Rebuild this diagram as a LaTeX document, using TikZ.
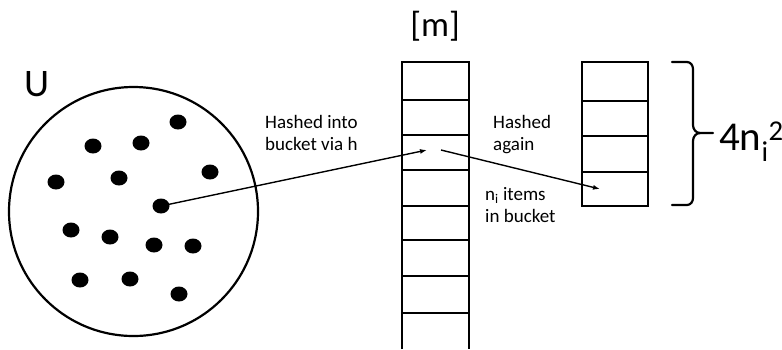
\documentclass[tikz,border=0pt]{standalone}
\usepackage{fontspec}
\setmainfont{Carlito}
\usetikzlibrary{arrows.meta}
\usetikzlibrary{shapes.geometric}
\tikzset{
  dot/.style={ellipse, fill=black, minimum width=17pt, minimum height=15pt, inner sep=0pt},
  boxline/.style={line width=2.4pt},
  arr/.style={line width=1.4pt, -{Latex[length=7pt,width=5pt]}},
  brace/.style={line width=2.2pt, line cap=round},
  lbl/.style={inner sep=0pt, align=left, font=\fontsize{19}{22}\selectfont},
}
\begin{document}
\begin{tikzpicture}[x=1pt,y=-1pt]
\useasboundingbox (0,0) rectangle (782,349);
% universe
\node[inner sep=0pt, anchor=base west, font=\fontsize{39}{44}\selectfont] (U) at (24,96) {U};
\node[circle, draw, line width=2.2pt, minimum size=249pt, inner sep=0pt] (univ) at (133.5,211.5) {};
\node[dot] (d1) at (178,122) {};
\node[dot] (d2) at (93,146) {};
\node[dot] (d3) at (141,143) {};
\node[dot] (d4) at (210,172) {};
\node[dot] (d5) at (56,182) {};
\node[dot] (d6) at (119,178) {};
\node[dot] (d7) at (161,206) {};
\node[dot] (d8) at (71,230) {};
\node[dot] (d9) at (110,237) {};
\node[dot] (d10) at (154,245) {};
\node[dot] (d11) at (193,246) {};
\node[dot] (d12) at (80,280) {};
\node[dot] (d13) at (130,279) {};
\node[dot] (d14) at (179,294) {};
% table [m]
\node[inner sep=0pt, anchor=base, font=\fontsize{35}{40}\selectfont] (mlabel) at (435,36) {[m]};
\draw[boxline] (402,349) -- (402,62) -- (469,62) -- (469,349);
\foreach \yy in {100,135,170,206,240,276,313} {
  \draw[boxline] (402,\yy) -- (469,\yy);
}
% second table
\draw[boxline] (582,62) rectangle (648,206);
\foreach \yy in {101,136,172} {
  \draw[boxline] (582,\yy) -- (648,\yy);
}
% brace
\draw[brace] (672,62) -- (687,62) to[out=0,in=90] (693,69) -- (693,125) to[out=-90,in=180] (700,133) -- (713,133);
\draw[brace] (700,133) to[out=180,in=90] (693,141) -- (693,198) to[out=-90,in=0] (687,205) -- (672,205);
\node[inner sep=0pt, anchor=base west, font=\fontsize{41}{46}\selectfont] (size) at (719,150) {4n\textsubscript{i}\textsuperscript{2}};
% labels
\node[lbl, anchor=base west] (l1a) at (265,128) {Hashed into};
\node[lbl, anchor=base west] (l1b) at (265,150) {bucket via h};
\node[lbl, anchor=base west] (l2a) at (493,128) {Hashed};
\node[lbl, anchor=base west] (l2b) at (493,150) {again};
\node[lbl, anchor=base west] (l3a) at (485,200) {n\textsubscript{i} items};
\node[lbl, anchor=base west] (l3b) at (485,222) {in bucket};
% arrows
\coordinate (tipA) at (427,150);
\coordinate (startB) at (441,150);
\coordinate (tipB) at (600,189);
\draw[arr] (d7.center) -- (tipA);
\draw[arr] (startB) -- (tipB);
\end{tikzpicture}
\end{document}
